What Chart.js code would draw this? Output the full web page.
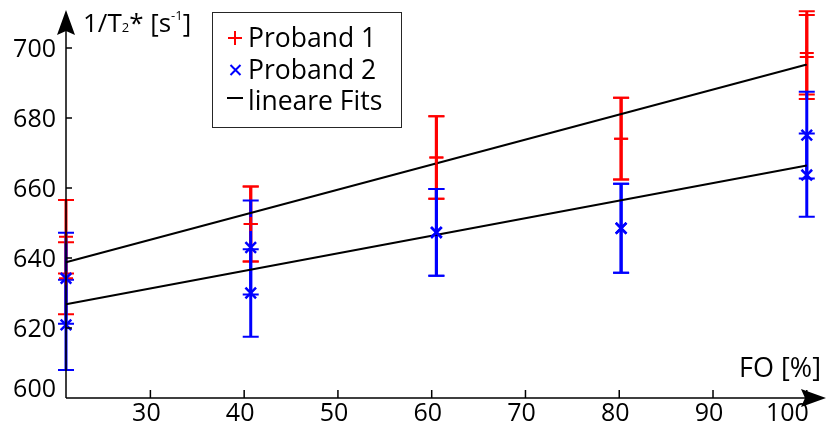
<!DOCTYPE html>
<html>
<head>
<meta charset="utf-8">
<script src="https://cdn.jsdelivr.net/npm/chart.js@4.4.1/dist/chart.umd.min.js"></script>
<style>
  html, body { margin: 0; padding: 0; background: #fff; }
  #wrap { position: relative; width: 836px; height: 427px; }
</style>
</head>
<body>
<div id="wrap"><canvas id="relaxationChart"></canvas></div>
<script>
// FO levels [%] and the two measurements per subject (value +- error)
var fo = [21, 40.7, 60.5, 80.2, 100];
var proband1A = [646.1, 649.7, 668.7, 674.1, 698.6];
var proband1AErr = [10.5, 10.7, 11.8, 11.7, 11.9];
var proband1B = [634.2, 649.7, 668.7, 674.1, 697.4];
var proband1BErr = [10.3, 10.7, 11.8, 11.7, 12.0];
var proband2A = [634.2, 643.0, 647.3, 648.5, 675.1];
var proband2AErr = [13.0, 13.4, 12.4, 12.7, 12.4];
var proband2B = [620.9, 630.0, 647.3, 648.5, 663.7];
var proband2BErr = [12.9, 12.5, 12.4, 12.7, 11.9];

// linear fits, evaluated at the ends of the FO range
var fitX = [21, 100];
var fit1 = [638.8, 695.3];
var fit2 = [626.8, 666.4];

var xTicks = [30, 40, 50, 60, 70, 80, 90, 100];
var yTicks = [600, 620, 640, 660, 680, 700];
var legendLabels = ['Proband 1', 'Proband 2', 'lineare Fits'];

var RED = '#ff0000', BLUE = '#0000ff', FONT = '"Open Sans", "DejaVu Sans", sans-serif';

function toPoints(xs, ys) {
    return xs.map(function(x, i) { return {x: x, y: ys[i]}; });
}

// error bars with caps, drawn below the markers and fit lines
var errorBarPlugin = {
    id: 'errorBars',
    beforeDatasetsDraw: function(chart) {
        var ctx = chart.ctx, xs = chart.scales.x, ys = chart.scales.y;
        function drawSeries(values, errors, color) {
            ctx.save();
            ctx.strokeStyle = color;
            values.forEach(function(v, i) {
                var px = xs.getPixelForValue(fo[i]),
                    top = ys.getPixelForValue(v + errors[i]),
                    bottom = ys.getPixelForValue(v - errors[i]);
                ctx.lineWidth = 3;
                ctx.beginPath();
                ctx.moveTo(px, top);
                ctx.lineTo(px, bottom);
                ctx.stroke();
                ctx.lineWidth = 2;
                ctx.beginPath();
                ctx.moveTo(px - 8, top); ctx.lineTo(px + 8, top);
                ctx.moveTo(px - 8, bottom); ctx.lineTo(px + 8, bottom);
                ctx.stroke();
            });
            ctx.restore();
        }
        drawSeries(proband1A, proband1AErr, RED);
        drawSeries(proband1B, proband1BErr, RED);
        drawSeries(proband2A, proband2AErr, BLUE);
        drawSeries(proband2B, proband2BErr, BLUE);
    }
};

// arrow with notched back, pointing along (dx, dy)
function drawArrow(ctx, tipX, tipY, dx, dy) {
    var len = 25, half = 9, notch = 4,
        nx = -dy, ny = dx;
    ctx.beginPath();
    ctx.moveTo(tipX, tipY);
    ctx.lineTo(tipX - dx * len + nx * half, tipY - dy * len + ny * half);
    ctx.lineTo(tipX - dx * (len - notch), tipY - dy * (len - notch));
    ctx.lineTo(tipX - dx * len - nx * half, tipY - dy * len - ny * half);
    ctx.closePath();
    ctx.fill();
}

// axes with inner ticks and arrows, axis titles and the legend box
var axesPlugin = {
    id: 'arrowAxes',
    afterDatasetsDraw: function(chart) {
        var ctx = chart.ctx, xs = chart.scales.x, ys = chart.scales.y,
            area = chart.chartArea,
            x0 = xs.getPixelForValue(xs.min), y0 = ys.getPixelForValue(ys.min);
        ctx.save();
        ctx.strokeStyle = '#000';
        ctx.fillStyle = '#000';
        ctx.lineWidth = 1.5;
        ctx.beginPath();
        ctx.moveTo(x0, y0); ctx.lineTo(area.right - 10, y0);
        ctx.moveTo(x0, y0); ctx.lineTo(x0, area.top + 10);
        ctx.stroke();

        ctx.beginPath();
        xTicks.forEach(function(t) {
            var px = xs.getPixelForValue(t);
            ctx.moveTo(px, y0); ctx.lineTo(px, y0 - 8);
        });
        yTicks.forEach(function(t) {
            if (t === ys.min) return;
            var py = ys.getPixelForValue(t);
            ctx.moveTo(x0, py); ctx.lineTo(x0 + 6, py);
        });
        ctx.stroke();

        drawArrow(ctx, area.right, y0, 1, 0);
        drawArrow(ctx, x0, area.top, 0, -1);

        ctx.font = '25px ' + FONT;
        ctx.textBaseline = 'alphabetic';
        ctx.textAlign = 'right';
        yTicks.forEach(function(t) {
            var py = ys.getPixelForValue(t);
            if (t === ys.min) py -= 10;
            ctx.fillText(String(t), 56, py + 9);
        });
        xTicks.forEach(function(t, i) {
            var px = xs.getPixelForValue(t);
            if (i === xTicks.length - 1) {
                ctx.textAlign = 'right';
                ctx.fillText(String(t), px + 2, 421);
            } else {
                ctx.textAlign = 'center';
                ctx.fillText(String(t), px - 4, 421);
            }
        });

        // axis titles
        ctx.font = '27px ' + FONT;
        ctx.textAlign = 'right';
        ctx.fillText('FO [%]', 821, 377);
        ctx.textAlign = 'left';
        var tx = 83, base = 32,
            parts = [['1/T', 26, 0], ['2', 13, 0], ['* [s', 26, 0], ['-1', 13, -12], [']', 26, 0]];
        parts.forEach(function(p) {
            ctx.font = p[1] + 'px ' + FONT;
            ctx.fillText(p[0], tx, base + p[2]);
            tx += ctx.measureText(p[0]).width;
        });

        // legend
        ctx.fillStyle = '#fff';
        ctx.fillRect(212, 12, 190, 116);
        ctx.strokeStyle = '#262626';
        ctx.lineWidth = 1;
        ctx.strokeRect(212.5, 12.5, 189, 115);
        var rows = [38, 70, 101];
        ctx.lineWidth = 2;
        ctx.strokeStyle = RED;
        ctx.beginPath();
        ctx.moveTo(228, rows[0]); ctx.lineTo(242, rows[0]);
        ctx.moveTo(235, rows[0] - 7); ctx.lineTo(235, rows[0] + 7);
        ctx.stroke();
        ctx.strokeStyle = BLUE;
        ctx.beginPath();
        ctx.moveTo(230.5, rows[1] - 5); ctx.lineTo(240.5, rows[1] + 5);
        ctx.moveTo(240.5, rows[1] - 5); ctx.lineTo(230.5, rows[1] + 5);
        ctx.stroke();
        ctx.strokeStyle = '#000';
        ctx.beginPath();
        ctx.moveTo(227, rows[2] - 3); ctx.lineTo(243, rows[2] - 3);
        ctx.stroke();
        ctx.fillStyle = '#000';
        ctx.font = '26.5px ' + FONT;
        legendLabels.forEach(function(label, i) {
            ctx.fillText(label, 248, rows[i] + 9);
        });
        ctx.restore();
    }
};

var chart = new Chart(document.getElementById('relaxationChart'), {
    type: 'scatter',
    data: {
        datasets: [
            {
                label: 'Proband 2',
                data: toPoints(fo, proband2A).concat(toPoints(fo, proband2B)),
                pointStyle: 'crossRot',
                pointRadius: 7.5,
                borderColor: BLUE,
                borderWidth: 2.5,
                order: 0,
                clip: false
            },
            {
                label: 'Proband 1',
                data: toPoints(fo, proband1A).concat(toPoints(fo, proband1B)),
                pointStyle: 'cross',
                pointRadius: 7,
                borderColor: RED,
                borderWidth: 2,
                order: 1,
                clip: false
            },
            {
                label: 'Fit Proband 1',
                data: toPoints(fitX, fit1),
                showLine: true,
                pointRadius: 0,
                borderColor: '#000',
                borderWidth: 2,
                order: 2,
                clip: false
            },
            {
                label: 'Fit Proband 2',
                data: toPoints(fitX, fit2),
                showLine: true,
                pointRadius: 0,
                borderColor: '#000',
                borderWidth: 2,
                order: 2,
                clip: false
            }
        ]
    },
    options: {
        responsive: true,
        maintainAspectRatio: false,
        animation: false,
        devicePixelRatio: 1,
        layout: {padding: {left: 66, top: 10, right: 0, bottom: 29}},
        scales: {
            x: {type: 'linear', min: 21, max: 102.05, display: false},
            y: {type: 'linear', min: 600, max: 710.86, display: false}
        },
        plugins: {
            legend: {display: false},
            tooltip: {enabled: false}
        }
    },
    plugins: [errorBarPlugin, axesPlugin]
});
</script>
</body>
</html>
